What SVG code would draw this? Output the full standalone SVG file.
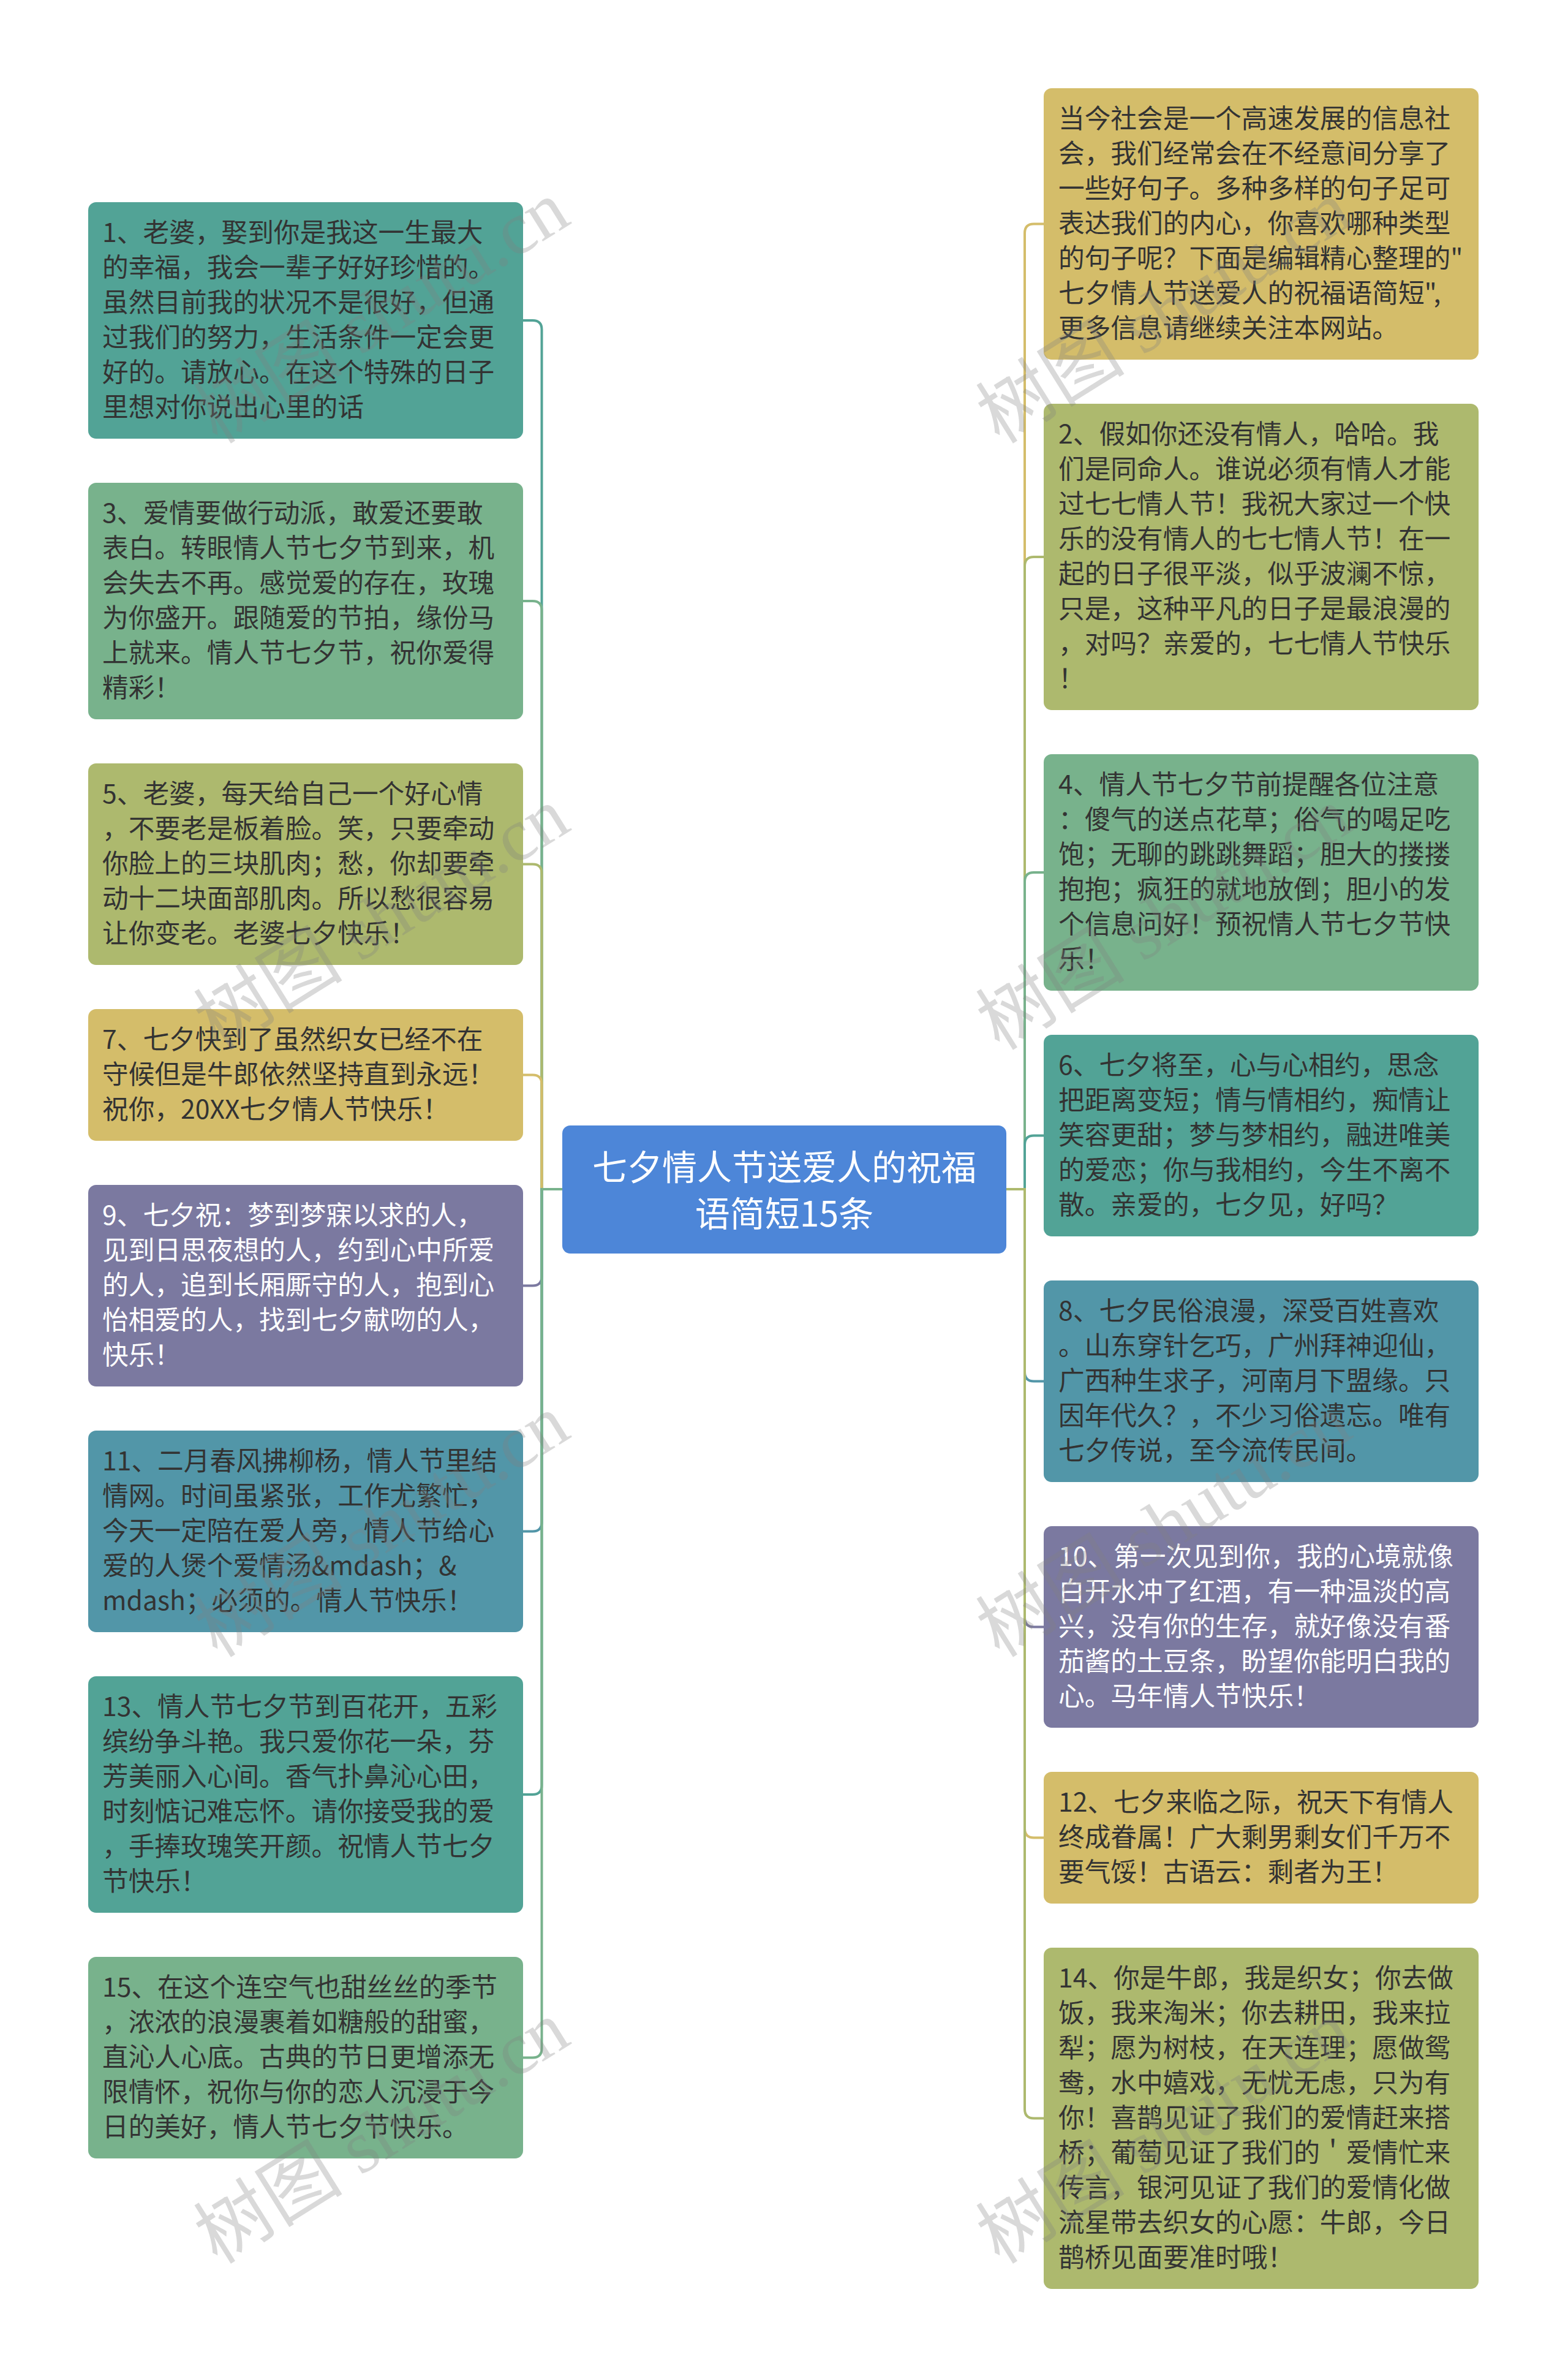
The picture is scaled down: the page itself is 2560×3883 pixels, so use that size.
<svg xmlns="http://www.w3.org/2000/svg" width="2560" height="3883" viewBox="0 0 2560 3883">
<style>
.t{font-family:"Noto Sans CJK SC","Noto Sans",sans-serif;font-size:42.7px;fill:#333333}
.w{fill:#ffffff}
.ct{font-family:"Noto Sans CJK SC","Noto Sans",sans-serif;font-size:57px;fill:#ffffff;text-anchor:middle}
.c{fill:none;stroke-width:4}
.wm{font-family:"Liberation Serif","Noto Sans CJK SC",serif;font-size:122px;fill:#808080;fill-opacity:0.3}
</style>
<rect x="0" y="0" width="2560" height="3883" fill="#ffffff"/>
<g id="connectors">
<path class="c" stroke="#52a396" d="M918 1941H884.5V538Q884.5 523 869.5 523H854"/>
<path class="c" stroke="#78b28c" d="M918 1941H884.5V996Q884.5 981 869.5 981H854"/>
<path class="c" stroke="#adb96e" d="M918 1941H884.5V1425.5Q884.5 1410.5 869.5 1410.5H854"/>
<path class="c" stroke="#d4bd6a" d="M918 1941H884.5V1769.5Q884.5 1754.5 869.5 1754.5H854"/>
<path class="c" stroke="#7b79a0" d="M918 1941H884.5V2083.5Q884.5 2098.5 869.5 2098.5H854"/>
<path class="c" stroke="#5296a8" d="M918 1941H884.5V2484.5Q884.5 2499.5 869.5 2499.5H854"/>
<path class="c" stroke="#52a396" d="M918 1941H884.5V2914Q884.5 2929 869.5 2929H854"/>
<path class="c" stroke="#78b28c" d="M918 1941H884.5V3343.5Q884.5 3358.5 869.5 3358.5H854"/>
<path class="c" stroke="#d4bd6a" d="M1643 1941H1673V380.5Q1673 365.5 1688 365.5H1704"/>
<path class="c" stroke="#adb96e" d="M1643 1941H1673V924Q1673 909 1688 909H1704"/>
<path class="c" stroke="#78b28c" d="M1643 1941H1673V1439Q1673 1424 1688 1424H1704"/>
<path class="c" stroke="#52a396" d="M1643 1941H1673V1868.5Q1673 1853.5 1688 1853.5H1704"/>
<path class="c" stroke="#5296a8" d="M1643 1941H1673V2239.5Q1673 2254.5 1688 2254.5H1704"/>
<path class="c" stroke="#7b79a0" d="M1643 1941H1673V2640.5Q1673 2655.5 1688 2655.5H1704"/>
<path class="c" stroke="#d4bd6a" d="M1643 1941H1673V2984.5Q1673 2999.5 1688 2999.5H1704"/>
<path class="c" stroke="#adb96e" d="M1643 1941H1673V3442.5Q1673 3457.5 1688 3457.5H1704"/>
</g>
<g id="center">
<rect x="918" y="1837" width="725" height="209" rx="13" fill="#4d86d8"/>
<text class="ct"><tspan x="1280.5" y="1926">七夕情人节送爱人的祝福</tspan><tspan x="1280.5" y="2002">语简短15条</tspan></text>
</g>
<g id="n1">
<rect x="144" y="330" width="710" height="386" rx="13" fill="#52a396"/>
<text class="t"><tspan x="167" y="395">1、老婆，娶到你是我这一生最大</tspan><tspan x="167" y="452">的幸福，我会一辈子好好珍惜的。</tspan><tspan x="167" y="509">虽然目前我的状况不是很好，但通</tspan><tspan x="167" y="566">过我们的努力，生活条件一定会更</tspan><tspan x="167" y="623">好的。请放心。在这个特殊的日子</tspan><tspan x="167" y="680">里想对你说出心里的话</tspan></text>
</g>
<g id="n3">
<rect x="144" y="788" width="710" height="386" rx="13" fill="#78b28c"/>
<text class="t"><tspan x="167" y="853">3、爱情要做行动派，敢爱还要敢</tspan><tspan x="167" y="910">表白。转眼情人节七夕节到来，机</tspan><tspan x="167" y="967">会失去不再。感觉爱的存在，玫瑰</tspan><tspan x="167" y="1024">为你盛开。跟随爱的节拍，缘份马</tspan><tspan x="167" y="1081">上就来。情人节七夕节，祝你爱得</tspan><tspan x="167" y="1138">精彩！</tspan></text>
</g>
<g id="n5">
<rect x="144" y="1246" width="710" height="329" rx="13" fill="#adb96e"/>
<text class="t"><tspan x="167" y="1311">5、老婆，每天给自己一个好心情</tspan><tspan x="167" y="1368">，不要老是板着脸。笑，只要牵动</tspan><tspan x="167" y="1425">你脸上的三块肌肉；愁，你却要牵</tspan><tspan x="167" y="1482">动十二块面部肌肉。所以愁很容易</tspan><tspan x="167" y="1539">让你变老。老婆七夕快乐！</tspan></text>
</g>
<g id="n7">
<rect x="144" y="1647" width="710" height="215" rx="13" fill="#d4bd6a"/>
<text class="t"><tspan x="167" y="1712">7、七夕快到了虽然织女已经不在</tspan><tspan x="167" y="1769">守候但是牛郎依然坚持直到永远！</tspan><tspan x="167" y="1826">祝你，20XX七夕情人节快乐！</tspan></text>
</g>
<g id="n9">
<rect x="144" y="1934" width="710" height="329" rx="13" fill="#7b79a0"/>
<text class="t w"><tspan x="167" y="1999">9、七夕祝：梦到梦寐以求的人，</tspan><tspan x="167" y="2056">见到日思夜想的人，约到心中所爱</tspan><tspan x="167" y="2113">的人，追到长厢厮守的人，抱到心</tspan><tspan x="167" y="2170">怡相爱的人，找到七夕献吻的人，</tspan><tspan x="167" y="2227">快乐！</tspan></text>
</g>
<g id="n11">
<rect x="144" y="2335" width="710" height="329" rx="13" fill="#5296a8"/>
<text class="t"><tspan x="167" y="2400">11、二月春风拂柳杨，情人节里结</tspan><tspan x="167" y="2457">情网。时间虽紧张，工作尤繁忙，</tspan><tspan x="167" y="2514">今天一定陪在爱人旁，情人节给心</tspan><tspan x="167" y="2571">爱的人煲个爱情汤&amp;mdash；&amp;</tspan><tspan x="167" y="2628">mdash；必须的。情人节快乐！</tspan></text>
</g>
<g id="n13">
<rect x="144" y="2736" width="710" height="386" rx="13" fill="#52a396"/>
<text class="t"><tspan x="167" y="2801">13、情人节七夕节到百花开，五彩</tspan><tspan x="167" y="2858">缤纷争斗艳。我只爱你花一朵，芬</tspan><tspan x="167" y="2915">芳美丽入心间。香气扑鼻沁心田，</tspan><tspan x="167" y="2972">时刻惦记难忘怀。请你接受我的爱</tspan><tspan x="167" y="3029">，手捧玫瑰笑开颜。祝情人节七夕</tspan><tspan x="167" y="3086">节快乐！</tspan></text>
</g>
<g id="n15">
<rect x="144" y="3194" width="710" height="329" rx="13" fill="#78b28c"/>
<text class="t"><tspan x="167" y="3259">15、在这个连空气也甜丝丝的季节</tspan><tspan x="167" y="3316">，浓浓的浪漫裹着如糖般的甜蜜，</tspan><tspan x="167" y="3373">直沁人心底。古典的节日更增添无</tspan><tspan x="167" y="3430">限情怀，祝你与你的恋人沉浸于今</tspan><tspan x="167" y="3487">日的美好，情人节七夕节快乐。</tspan></text>
</g>
<g id="intro">
<rect x="1704" y="144" width="710" height="443" rx="13" fill="#d4bd6a"/>
<text class="t"><tspan x="1728" y="209">当今社会是一个高速发展的信息社</tspan><tspan x="1728" y="266">会，我们经常会在不经意间分享了</tspan><tspan x="1728" y="323">一些好句子。多种多样的句子足可</tspan><tspan x="1728" y="380">表达我们的内心，你喜欢哪种类型</tspan><tspan x="1728" y="437">的句子呢？下面是编辑精心整理的"</tspan><tspan x="1728" y="494">七夕情人节送爱人的祝福语简短",</tspan><tspan x="1728" y="551">更多信息请继续关注本网站。</tspan></text>
</g>
<g id="n2">
<rect x="1704" y="659" width="710" height="500" rx="13" fill="#adb96e"/>
<text class="t"><tspan x="1728" y="724">2、假如你还没有情人，哈哈。我</tspan><tspan x="1728" y="781">们是同命人。谁说必须有情人才能</tspan><tspan x="1728" y="838">过七七情人节！我祝大家过一个快</tspan><tspan x="1728" y="895">乐的没有情人的七七情人节！在一</tspan><tspan x="1728" y="952">起的日子很平淡，似乎波澜不惊，</tspan><tspan x="1728" y="1009">只是，这种平凡的日子是最浪漫的</tspan><tspan x="1728" y="1066">，对吗？亲爱的，七七情人节快乐</tspan><tspan x="1728" y="1123">！</tspan></text>
</g>
<g id="n4">
<rect x="1704" y="1231" width="710" height="386" rx="13" fill="#78b28c"/>
<text class="t"><tspan x="1728" y="1296">4、情人节七夕节前提醒各位注意</tspan><tspan x="1728" y="1353">：傻气的送点花草；俗气的喝足吃</tspan><tspan x="1728" y="1410">饱；无聊的跳跳舞蹈；胆大的搂搂</tspan><tspan x="1728" y="1467">抱抱；疯狂的就地放倒；胆小的发</tspan><tspan x="1728" y="1524">个信息问好！预祝情人节七夕节快</tspan><tspan x="1728" y="1581">乐！</tspan></text>
</g>
<g id="n6">
<rect x="1704" y="1689" width="710" height="329" rx="13" fill="#52a396"/>
<text class="t"><tspan x="1728" y="1754">6、七夕将至，心与心相约，思念</tspan><tspan x="1728" y="1811">把距离变短；情与情相约，痴情让</tspan><tspan x="1728" y="1868">笑容更甜；梦与梦相约，融进唯美</tspan><tspan x="1728" y="1925">的爱恋；你与我相约，今生不离不</tspan><tspan x="1728" y="1982">散。亲爱的，七夕见，好吗？</tspan></text>
</g>
<g id="n8">
<rect x="1704" y="2090" width="710" height="329" rx="13" fill="#5296a8"/>
<text class="t"><tspan x="1728" y="2155">8、七夕民俗浪漫，深受百姓喜欢</tspan><tspan x="1728" y="2212">。山东穿针乞巧，广州拜神迎仙，</tspan><tspan x="1728" y="2269">广西种生求子，河南月下盟缘。只</tspan><tspan x="1728" y="2326">因年代久？，不少习俗遗忘。唯有</tspan><tspan x="1728" y="2383">七夕传说，至今流传民间。</tspan></text>
</g>
<g id="n10">
<rect x="1704" y="2491" width="710" height="329" rx="13" fill="#7b79a0"/>
<text class="t w"><tspan x="1728" y="2556">10、第一次见到你，我的心境就像</tspan><tspan x="1728" y="2613">白开水冲了红酒，有一种温淡的高</tspan><tspan x="1728" y="2670">兴，没有你的生存，就好像没有番</tspan><tspan x="1728" y="2727">茄酱的土豆条，盼望你能明白我的</tspan><tspan x="1728" y="2784">心。马年情人节快乐！</tspan></text>
</g>
<g id="n12">
<rect x="1704" y="2892" width="710" height="215" rx="13" fill="#d4bd6a"/>
<text class="t"><tspan x="1728" y="2957">12、七夕来临之际，祝天下有情人</tspan><tspan x="1728" y="3014">终成眷属！广大剩男剩女们千万不</tspan><tspan x="1728" y="3071">要气馁！古语云：剩者为王！</tspan></text>
</g>
<g id="n14">
<rect x="1704" y="3179" width="710" height="557" rx="13" fill="#adb96e"/>
<text class="t"><tspan x="1728" y="3244">14、你是牛郎，我是织女；你去做</tspan><tspan x="1728" y="3301">饭，我来淘米；你去耕田，我来拉</tspan><tspan x="1728" y="3358">犁；愿为树枝，在天连理；愿做鸳</tspan><tspan x="1728" y="3415">鸯，水中嬉戏，无忧无虑，只为有</tspan><tspan x="1728" y="3472">你！喜鹊见证了我们的爱情赶来搭</tspan><tspan x="1728" y="3529">桥；葡萄见证了我们的＇爱情忙来</tspan><tspan x="1728" y="3586">传言，银河见证了我们的爱情化做</tspan><tspan x="1728" y="3643">流星带去织女的心愿：牛郎，今日</tspan><tspan x="1728" y="3700">鹊桥见面要准时哦！</tspan></text>
</g>
<g id="watermarks">
<text class="wm" transform="translate(355 726) rotate(-32)">树图 shutu.cn</text>
<text class="wm" transform="translate(355 1716) rotate(-32)">树图 shutu.cn</text>
<text class="wm" transform="translate(355 2707) rotate(-32)">树图 shutu.cn</text>
<text class="wm" transform="translate(355 3697) rotate(-32)">树图 shutu.cn</text>
<text class="wm" transform="translate(1632 726) rotate(-32)">树图 shutu.cn</text>
<text class="wm" transform="translate(1632 1716) rotate(-32)">树图 shutu.cn</text>
<text class="wm" transform="translate(1632 2707) rotate(-32)">树图 shutu.cn</text>
<text class="wm" transform="translate(1632 3697) rotate(-32)">树图 shutu.cn</text>
</g>
</svg>
